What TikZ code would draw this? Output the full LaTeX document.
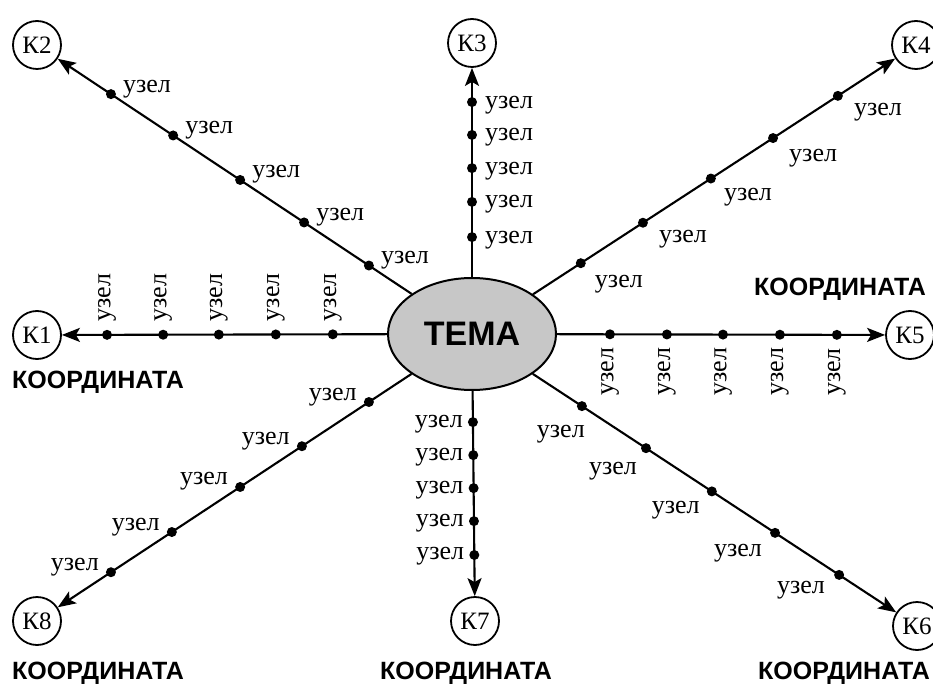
\documentclass[tikz,border=0pt]{standalone}
\usepackage{fontspec}
\setmainfont{Liberation Serif}
\newfontfamily\hdfont{Liberation Sans}
\usetikzlibrary{shapes.geometric,arrows.meta,calc}
\begin{document}
\begin{tikzpicture}[x=1pt,y=-1pt,
  kcirc/.style={circle,draw,line width=1.8pt,minimum size=48pt,inner sep=0pt,font=\fontsize{25}{28}\selectfont},
  dot/.style={circle,fill,inner sep=0pt,minimum size=10pt},
  lbl/.style={inner sep=0pt,font=\fontsize{26}{28}\selectfont},
  coordlbl/.style={inner sep=0pt,font=\hdfont\bfseries\fontsize{25}{28}\selectfont},
  conn/.style={line width=2.1pt,-{Stealth[length=18pt,width=14pt,inset=4pt]}},
  topic/.style={ellipse,draw,line width=2pt,fill=black!22,minimum width=168pt,minimum height=112pt,inner sep=0pt,font=\hdfont\bfseries\fontsize{34}{36}\selectfont}
]
\useasboundingbox[fill=white] (0,0) rectangle (933,684);

\node[topic] (T) at (472,334) {ТЕМА};

\node[kcirc] (k1) at (37,335) {К1};
\node[kcirc] (k2) at (37,45) {К2};
\node[kcirc] (k3) at (472,43) {К3};
\node[kcirc] (k4) at (916,45) {К4};
\node[kcirc] (k5) at (910,335) {К5};
\node[kcirc] (k6) at (917,626) {К6};
\node[kcirc] (k7) at (475,621) {К7};
\node[kcirc] (k8) at (37,621) {К8};

\foreach \b in {k1,k2,k3,k4,k5,k6,k7,k8} \draw[conn] (T) -- (\b);

% K1
\foreach \t [count=\i] in {0.320,0.451,0.582,0.710,0.839}{
  \node[dot] (d1\i) at ($(T)!\t!(k1)$) {};
  \node[lbl,rotate=90,anchor=mid west] (l1\i) at ($(d1\i)+(1,-13)$) {узел};
}
% K2
\foreach \t [count=\i] in {0.237,0.386,0.533,0.687,0.830}{
  \node[dot] (d2\i) at ($(T)!\t!(k2)$) {};
  \node[lbl,anchor=base west] (l2\i) at ($(d2\i)+(12,-2)$) {узел};
}
% K3
\foreach \t [count=\i] in {0.333,0.454,0.570,0.684,0.797}{
  \node[dot] (d3\i) at ($(T)!\t!(k3)$) {};
  \node[lbl,anchor=base west] (l3\i) at ($(d3\i)+(13,6)$) {узел};
}
% K4
\foreach \t/\ox/\oy [count=\i] in {0.245/14/24,0.385/16/20,0.538/13/22,0.678/16/23,0.824/16/20}{
  \node[dot] (d4\i) at ($(T)!\t!(k4)$) {};
  \node[lbl,anchor=base west] (l4\i) at ($(d4\i)+(\ox,\oy)$) {узел};
}
% K5
\foreach \t [count=\i] in {0.315,0.445,0.573,0.703,0.833}{
  \node[dot] (d5\i) at ($(T)!\t!(k5)$) {};
  \node[lbl,rotate=90,anchor=mid east] (l5\i) at ($(d5\i)+(1,13)$) {узел};
}
% K6
\foreach \t/\ox/\oy [count=\i] in {0.247/3/31,0.391/-9/26,0.539/-12/22,0.681/-13/24,0.825/-14/19}{
  \node[dot] (d6\i) at ($(T)!\t!(k6)$) {};
  \node[lbl,anchor=base east] (l6\i) at ($(d6\i)+(\ox,\oy)$) {узел};
}
% K7
\foreach \t [count=\i] in {0.307,0.422,0.537,0.652,0.770}{
  \node[dot] (d7\i) at ($(T)!\t!(k7)$) {};
  \node[lbl,anchor=base east] (l7\i) at ($(d7\i)+(-10,5)$) {узел};
}
% K8
\foreach \t [count=\i] in {0.237,0.391,0.533,0.690,0.830}{
  \node[dot] (d8\i) at ($(T)!\t!(k8)$) {};
  \node[lbl,anchor=base east] (l8\i) at ($(d8\i)+(-12,-2)$) {узел};
}

\node[coordlbl,anchor=base west] (c1) at (12,388) {КООРДИНАТА};
\node[coordlbl,anchor=base east] (c5) at (926,295) {КООРДИНАТА};
\node[coordlbl,anchor=base west] (c8) at (12,679) {КООРДИНАТА};
\node[coordlbl,anchor=base] (c7) at (466,679) {КООРДИНАТА};
\node[coordlbl,anchor=base east] (c6) at (930,679) {КООРДИНАТА};
\end{tikzpicture}
\end{document}
